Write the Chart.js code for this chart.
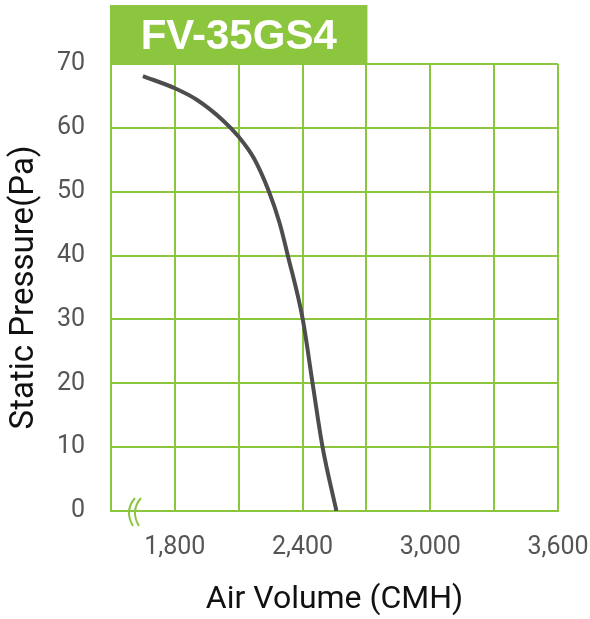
<!DOCTYPE html>
<html>
<head>
<meta charset="utf-8">
<script src="https://cdn.jsdelivr.net/npm/chart.js@4"></script>
<style>
  html, body { margin: 0; padding: 0; background: #fff; }
  #wrap { width: 590px; height: 619px; }
</style>
</head>
<body>
<div id="wrap"><canvas id="fanChart" width="590" height="619"></canvas></div>
<script>
const modelName = "FV-35GS4";
const airVolume = [1650, 1800, 1903, 2025, 2100, 2172, 2241, 2292, 2330, 2401, 2447, 2494, 2559];
const staticPressure = [68.1, 66.2, 64.4, 61.2, 58.6, 55.2, 50.1, 45.1, 40.1, 30, 20, 10, 0];
const xTickLabels = [1800, 2400, 3000, 3600];
const yTickLabels = [0, 10, 20, 30, 40, 50, 60, 70];

const green = "#8cc63f";
const labelFont = "Roboto, 'Liberation Sans', Arial, sans-serif";

// green header box and the "((" axis break
const decorPlugin = {
    id: "decor",
    afterDraw(chart) {
        const ctx = chart.ctx;
        const area = chart.chartArea;
        const xs = chart.scales.x;
        const right = xs.getPixelForValue(2700);
        ctx.save();
        ctx.fillStyle = green;
        ctx.fillRect(area.left - 1, 5, right - area.left + 2, area.top - 5);
        ctx.fillStyle = "#fff";
        ctx.font = "bold 42px 'Liberation Sans', Arial, sans-serif";
        ctx.textAlign = "center";
        ctx.textBaseline = "middle";
        ctx.fillText(modelName, (area.left + right) / 2, (area.top + 5) / 2 + 3);

        // axis break
        ctx.strokeStyle = green;
        ctx.lineWidth = 2;
        const bx = area.left + 19;
        const by = area.bottom;
        [0, 6].forEach(off => {
            ctx.beginPath();
            ctx.moveTo(bx + off + 5, by - 13);
            ctx.quadraticCurveTo(bx + off - 6, by, bx + off + 3, by + 15);
            ctx.stroke();
        });
        ctx.restore();
    }
};

new Chart(document.getElementById("fanChart").getContext("2d"), {
    type: "scatter",
    data: {
        datasets: [{
            data: airVolume.map((v, i) => ({ x: v, y: staticPressure[i] })),
            showLine: true,
            borderColor: "#4d4d4f",
            borderWidth: 4,
            pointRadius: 0,
            cubicInterpolationMode: "monotone",
            fill: false
        }]
    },
    options: {
        responsive: false,
        animation: false,
        layout: { padding: { top: 64, right: 0, left: 5, bottom: 0 } },
        plugins: { legend: { display: false }, tooltip: { enabled: false } },
        scales: {
            x: {
                type: "linear",
                min: 1500,
                max: 3600,
                afterBuildTicks: axis => {
                    axis.ticks = [1500, 1800, 2100, 2400, 2700, 3000, 3300, 3600].map(v => ({ value: v }));
                },
                afterFit: axis => {
                    axis.height = 108;
                    axis.paddingRight = 32;
                    axis.paddingLeft = 0;
                },
                ticks: {
                    autoSkip: false,
                    maxRotation: 0,
                    padding: 22,
                    color: "#555",
                    font: { family: labelFont, size: 25 },
                    callback: v => xTickLabels.includes(v) ? v.toLocaleString("en-US") : ""
                },
                grid: { color: green, lineWidth: 2, drawTicks: false },
                border: { color: green, width: 2 },
                title: {
                    display: true,
                    text: "Air Volume (CMH)",
                    color: "#111",
                    font: { family: labelFont, size: 32 },
                    padding: { top: 14, bottom: 0 }
                }
            },
            y: {
                min: 0,
                max: 70,
                afterBuildTicks: axis => {
                    axis.ticks = yTickLabels.map(v => ({ value: v }));
                },
                afterFit: axis => {
                    axis.width = 106;
                    axis.paddingTop = 0;
                    axis.paddingBottom = 0;
                },
                ticks: {
                    padding: 26,
                    color: "#555",
                    font: { family: labelFont, size: 25 }
                },
                grid: { color: green, lineWidth: 2, drawTicks: false },
                border: { color: green, width: 2 },
                title: {
                    display: true,
                    text: "Static Pressure(Pa)",
                    color: "#111",
                    font: { family: labelFont, size: 33 },
                    padding: { top: 0, bottom: 11 }
                }
            }
        }
    },
    plugins: [decorPlugin]
});
</script>
</body>
</html>
